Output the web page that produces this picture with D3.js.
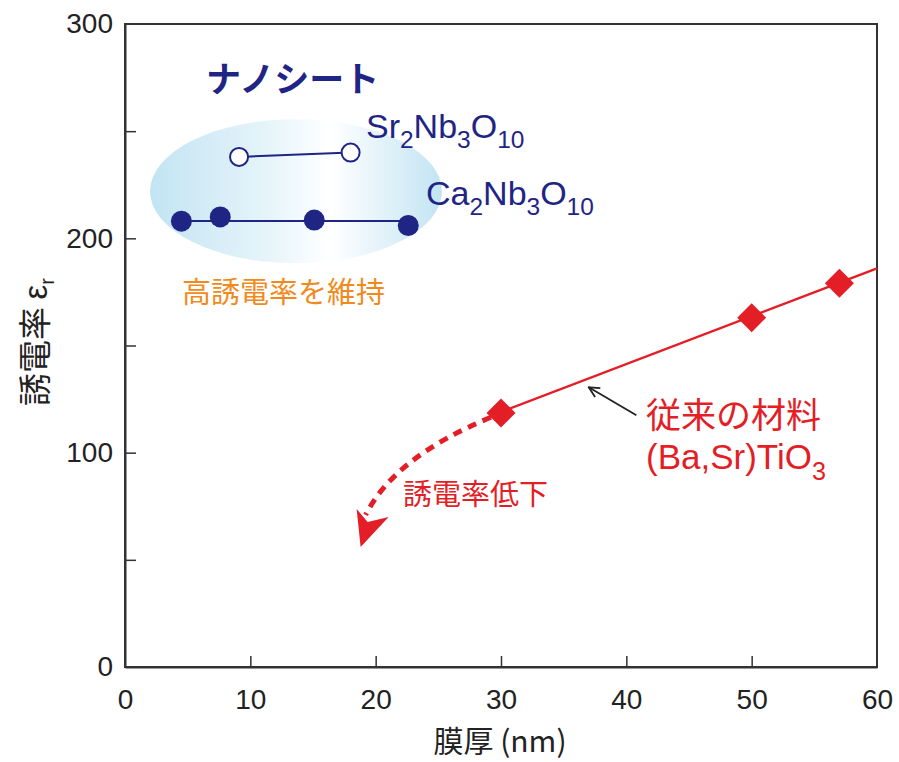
<!DOCTYPE html>
<html>
<head>
<meta charset="utf-8">
<script src="https://cdn.jsdelivr.net/npm/d3@7"></script>
<style>
    body { margin: 0; background: #fff; }
    text { font-family: "Liberation Sans", Arial, sans-serif; }
    .jp { font-family: "Noto Sans CJK JP", sans-serif; }
</style>
</head>
<body>
<svg id="chart" width="899" height="762"></svg>
<script>
// data
const srNbThickness = [9.1, 18.0];
const srNbEps = [238, 240];
const caNbThickness = [4.5, 7.6, 15.1, 22.6];
const caNbEps = [208, 210, 208.5, 206];
const bstThickness = [30, 50, 57];
const bstEps = [118.5, 163, 179];
const bstFitX = [30, 60];
const bstFitY = [119, 186];
// dashed "drop" curve: start, control, arrow tip (data units)
const dropCurve = [[29.2, 116.5], [21.5, 98], [18.8, 56]];
const pointerArrow = [[40.8, 117.5], [37.0, 130.5]];
const xTicks = [0, 10, 20, 30, 40, 50, 60];
const yTicks = [0, 50, 100, 150, 200, 250, 300];
const yLabels = [0, 100, 200, 300];

const NAVY = "#1f2585";
const RED = "#e41e26";

const svg = d3.select("#chart");
const x = d3.scaleLinear().domain([0, 60]).range([125, 877]);
const y = d3.scaleLinear().domain([0, 300]).range([667, 24]);

const defs = svg.append("defs");
const grad = defs.append("linearGradient").attr("id", "nanoGrad");
grad.append("stop").attr("offset", "0%").attr("stop-color", "#c2e4f3");
grad.append("stop").attr("offset", "40%").attr("stop-color", "#e6f4fa");
grad.append("stop").attr("offset", "62%").attr("stop-color", "#ffffff");
grad.append("stop").attr("offset", "100%").attr("stop-color", "#c2e4f3");

defs.append("marker")
    .attr("id", "blackHead")
    .attr("viewBox", "0 0 10 10")
    .attr("refX", 9).attr("refY", 5)
    .attr("markerWidth", 13).attr("markerHeight", 13)
    .attr("markerUnits", "userSpaceOnUse")
    .attr("orient", "auto")
    .append("path")
    .attr("d", "M1,1 L9,5 L1,9")
    .attr("fill", "none")
    .attr("stroke", "#222")
    .attr("stroke-width", 1.4);

// frame
svg.append("rect")
    .attr("x", x(0)).attr("y", y(300))
    .attr("width", x(60) - x(0)).attr("height", y(0) - y(300))
    .attr("fill", "none").attr("stroke", "#333").attr("stroke-width", 2);

const xAxis = svg.append("g")
    .attr("transform", `translate(0,${y(0)})`)
    .call(d3.axisBottom(x).tickValues(xTicks).tickSizeInner(-11).tickSizeOuter(0).tickPadding(22));
const yAxis = svg.append("g")
    .attr("transform", `translate(${x(0)},0)`)
    .call(d3.axisLeft(y).tickValues(yTicks).tickSizeInner(-11).tickSizeOuter(0).tickPadding(12)
        .tickFormat((d) => (yLabels.includes(d) ? d : "")));

[xAxis, yAxis].forEach((g) => {
    g.select(".domain").attr("stroke", "#333").attr("stroke-width", 2);
    g.selectAll(".tick line").attr("stroke", "#333").attr("stroke-width", 1.5);
    g.selectAll(".tick text")
        .attr("fill", "#222")
        .style("font-family", "'Liberation Sans', Arial, sans-serif")
        .style("font-size", "28px");
});
xAxis.selectAll(".tick line").filter((d) => d === 0 || d === 60).remove();
yAxis.selectAll(".tick line").filter((d) => d === 0 || d === 300).remove();

// axis titles
svg.append("text")
    .attr("class", "jp")
    .attr("x", 500).attr("y", 752)
    .attr("text-anchor", "middle")
    .attr("fill", "#222")
    .style("font-size", "30px")
    .text("膜厚 (nm)");

const yTitle = svg.append("text")
    .attr("transform", "translate(47,342) rotate(-90)")
    .attr("text-anchor", "middle")
    .attr("fill", "#222")
    .style("font-size", "33px");
yTitle.append("tspan").attr("class", "jp").text("誘電率  ");
yTitle.append("tspan").text("ε");
yTitle.append("tspan").attr("dy", 7).style("font-size", "20px").text("r");

// nanosheet ellipse
const ell = { cx: (x(caNbThickness[0]) + x(srNbThickness[1])) / 2 + 30, cy: y(222), rx: 146, ry: 72 };
svg.append("ellipse")
    .attr("cx", ell.cx).attr("cy", ell.cy)
    .attr("rx", ell.rx).attr("ry", ell.ry)
    .attr("fill", "url(#nanoGrad)");

// Sr2Nb3O10 line + open circles
const srPts = srNbThickness.map((t, i) => [t, srNbEps[i]]);
svg.append("path")
    .attr("d", d3.line().x((d) => x(d[0])).y((d) => y(d[1]))(srPts))
    .attr("fill", "none").attr("stroke", NAVY).attr("stroke-width", 2);
svg.selectAll(".sr").data(srPts).enter().append("circle")
    .attr("cx", (d) => x(d[0])).attr("cy", (d) => y(d[1]))
    .attr("r", 9).attr("fill", "#fff").attr("stroke", NAVY).attr("stroke-width", 2);

// Ca2Nb3O10 flat line + filled circles
const caMean = d3.mean(caNbEps);
svg.append("line")
    .attr("x1", x(d3.min(caNbThickness))).attr("x2", x(d3.max(caNbThickness)))
    .attr("y1", y(caMean)).attr("y2", y(caMean))
    .attr("stroke", NAVY).attr("stroke-width", 2);
svg.selectAll(".ca").data(caNbThickness.map((t, i) => [t, caNbEps[i]])).enter().append("circle")
    .attr("cx", (d) => x(d[0])).attr("cy", (d) => y(d[1]))
    .attr("r", 10.5).attr("fill", NAVY);

// BST fit line + diamonds
svg.append("line")
    .attr("x1", x(bstFitX[0])).attr("y1", y(bstFitY[0]))
    .attr("x2", x(bstFitX[1])).attr("y2", y(bstFitY[1]))
    .attr("stroke", RED).attr("stroke-width", 2.5);

// dashed drop curve
const [c0, c1, c2] = dropCurve.map((d) => [x(d[0]), y(d[1])]);
const tipBack = [c2[0] + 5, c2[1] - 32];
svg.append("path")
    .attr("d", `M${c0[0]},${c0[1]} Q${c1[0]},${c1[1]} ${tipBack[0]},${tipBack[1]}`)
    .attr("fill", "none").attr("stroke", RED)
    .attr("stroke-width", 5).attr("stroke-dasharray", "9,7");
svg.append("path")
    .attr("d", `M${c2[0]},${c2[1]} L${c2[0] - 4},${c2[1] - 38} L${c2[0] + 7},${c2[1] - 25} L${c2[0] + 28},${c2[1] - 30} Z`)
    .attr("fill", RED);

svg.selectAll(".bst").data(bstThickness.map((t, i) => [t, bstEps[i]])).enter().append("path")
    .attr("d", d3.symbol(d3.symbolSquare, 420))
    .attr("transform", (d) => `translate(${x(d[0])},${y(d[1])}) rotate(45)`)
    .attr("fill", RED);

// pointer arrow
svg.append("line")
    .attr("x1", x(pointerArrow[0][0])).attr("y1", y(pointerArrow[0][1]))
    .attr("x2", x(pointerArrow[1][0])).attr("y2", y(pointerArrow[1][1]))
    .attr("stroke", "#222").attr("stroke-width", 1.8)
    .attr("marker-end", "url(#blackHead)");

// labels with subscripts
function chem(parts, xPos, yPos, size, color) {
    const t = svg.append("text").attr("x", xPos).attr("y", yPos)
        .attr("fill", color).style("font-size", size + "px");
    const shift = size * 0.3;
    let lowered = false;
    parts.forEach(([s, sub]) => {
        const span = t.append("tspan").text(s);
        if (sub && !lowered) { span.attr("dy", shift); lowered = true; }
        else if (!sub && lowered) { span.attr("dy", -shift); lowered = false; }
        if (sub) span.style("font-size", size * 0.72 + "px");
    });
    return t;
}

svg.append("text").attr("class", "jp")
    .attr("x", 206).attr("y", 92)
    .attr("fill", NAVY).style("font-size", "35px").style("font-weight", "bold")
    .text("ナノシート");
chem([["Sr"], ["2", 1], ["Nb"], ["3", 1], ["O"], ["10", 1]], 366, 138, 34, NAVY);
chem([["Ca"], ["2", 1], ["Nb"], ["3", 1], ["O"], ["10", 1]], 426, 205, 34, NAVY);
svg.append("text").attr("class", "jp")
    .attr("x", 182).attr("y", 303)
    .attr("fill", "#f08a1c").style("font-size", "29px")
    .text("高誘電率を維持");
svg.append("text").attr("class", "jp")
    .attr("x", 646).attr("y", 428)
    .attr("fill", RED).style("font-size", "35px")
    .text("従来の材料");
chem([["(Ba,Sr)TiO"], ["3", 1]], 646, 469, 35, RED);
svg.append("text").attr("class", "jp")
    .attr("x", 403).attr("y", 505)
    .attr("fill", RED).style("font-size", "29px")
    .text("誘電率低下");
</script>
</body>
</html>
